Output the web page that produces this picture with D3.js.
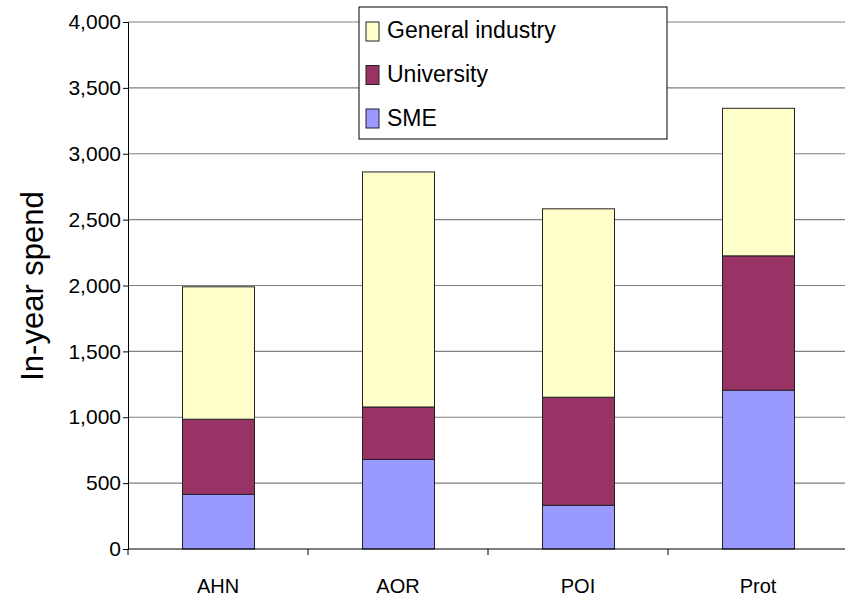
<!DOCTYPE html>
<html>
<head>
	<style>
		body { margin: 0; background: #fff; }
		text { font-family: "Liberation Sans", Arial, sans-serif; }
	</style>
</head>
<body>
	<script src="https://d3js.org/d3.v7.min.js"></script>
	<script type="text/javascript">
		var categories = ["AHN", "AOR", "POI", "Prot"];
		var seriesNames = ["SME", "University", "General industry"];
		var seriesColors = ["#9999ff", "#993366", "#ffffcc"];
		var sme = [415, 680, 332, 1205];
		var university = [570, 398, 820, 1020];
		var general = [1005, 1784, 1430, 1120];
		var yTicks = [0, 500, 1000, 1500, 2000, 2500, 3000, 3500, 4000];

		var width = 845, height = 598;
		var svg = d3.select("body").append("svg")
			.attr("width", width)
			.attr("height", height);

		var x = d3.scaleBand()
			.domain(categories)
			.range([128, 848])
			.paddingInner(0.6)
			.paddingOuter(0.3);
		var y = d3.scaleLinear()
			.domain([0, 4000])
			.range([549, 22]);

		// gridlines
		svg.append("g").selectAll("line")
			.data(yTicks.slice(1))
			.join("line")
			.attr("x1", 128).attr("x2", width)
			.attr("y1", d => y(d)).attr("y2", d => y(d))
			.attr("stroke", "#808080")
			.attr("stroke-width", 1.2);

		// stacked bars
		var rows = categories.map(function(c, i) {
			return {cat: c, SME: sme[i], University: university[i], "General industry": general[i]};
		});
		var stack = d3.stack().keys(seriesNames)(rows);
		svg.append("g").selectAll("g")
			.data(stack)
			.join("g")
			.attr("fill", (d, i) => seriesColors[i])
			.selectAll("rect")
			.data(d => d)
			.join("rect")
			.attr("x", d => x(d.data.cat) + 0.5)
			.attr("width", x.bandwidth())
			.attr("y", d => y(d[1]))
			.attr("height", d => y(d[0]) - y(d[1]))
			.attr("stroke", "#222")
			.attr("stroke-width", 1);

		// y axis
		var yAxis = d3.axisLeft(y)
			.tickValues(yTicks)
			.tickSize(5)
			.tickPadding(2)
			.tickFormat(d3.format(","));
		var gy = svg.append("g")
			.attr("transform", "translate(128,0)")
			.call(yAxis);
		gy.select(".domain").attr("stroke", "#000");
		gy.selectAll(".tick line").attr("stroke", "#000");
		gy.selectAll(".tick text")
			.attr("font-size", 21)
			.attr("fill", "#000");

		// x axis
		var gx = svg.append("g").attr("transform", "translate(0,549)");
		gx.append("line")
			.attr("x1", 128).attr("x2", width)
			.attr("y1", 0).attr("y2", 0)
			.attr("stroke", "#000");
		var bounds = [128].concat(categories.map(c => x(c) + x.bandwidth() / 2 + x.step() / 2));
		gx.selectAll(".xt")
			.data(bounds)
			.join("line")
			.attr("x1", d => d).attr("x2", d => d)
			.attr("y1", 0).attr("y2", 6)
			.attr("stroke", "#000");
		gx.selectAll(".xl")
			.data(categories)
			.join("text")
			.attr("x", d => x(d) + x.bandwidth() / 2)
			.attr("y", 44)
			.attr("text-anchor", "middle")
			.attr("font-size", 20)
			.text(d => d);

		// y label
		svg.append("text")
			.attr("transform", "translate(43,286) rotate(-90)")
			.attr("text-anchor", "middle")
			.attr("font-size", 31)
			.text("In-year spend");

		// legend
		var legend = svg.append("g");
		legend.append("rect")
			.attr("x", 359).attr("y", 7)
			.attr("width", 308).attr("height", 132)
			.attr("fill", "#fff")
			.attr("stroke", "#000");
		var legendItems = seriesNames.slice().reverse();
		var legendColors = seriesColors.slice().reverse();
		legend.selectAll(".li")
			.data(legendItems)
			.join("rect")
			.attr("x", 366)
			.attr("y", (d, i) => 22 + i * 43.5)
			.attr("width", 13)
			.attr("height", 19)
			.attr("fill", (d, i) => legendColors[i])
			.attr("stroke", "#222");
		legend.selectAll(".lt")
			.data(legendItems)
			.join("text")
			.attr("x", 387)
			.attr("y", (d, i) => 38 + i * 43.8)
			.attr("font-size", 23)
			.text(d => d);
	</script>
</body>
</html>
